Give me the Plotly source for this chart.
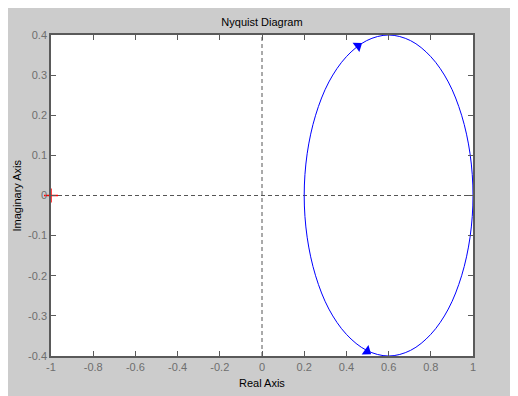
import plotly.graph_objects as go

# Nyquist curve points (real, imaginary)
curve_re = [1.000, 0.986, 0.946, 0.883, 0.800, 0.704, 0.600, 0.496, 0.400, 0.317,
            0.254, 0.214, 0.200, 0.214, 0.254, 0.317, 0.400, 0.496, 0.600, 0.704,
            0.800, 0.883, 0.946, 0.986, 1.000]
curve_im = [0.000, -0.104, -0.200, -0.283, -0.346, -0.386, -0.400, -0.386, -0.346, -0.283,
            -0.200, -0.104, 0.000, 0.104, 0.200, 0.283, 0.346, 0.386, 0.400, 0.386,
            0.346, 0.283, 0.200, 0.104, 0.000]

# Direction arrows (position and angle)
arrow_re = [0.455, 0.498]
arrow_im = [0.373, -0.388]
arrow_angle = [54, 126]

# Critical point
crit_re = [-1]
crit_im = [0]

x_ticks = [-1, -0.8, -0.6, -0.4, -0.2, 0, 0.2, 0.4, 0.6, 0.8, 1]
x_labels = ["-1", "-0.8", "-0.6", "-0.4", "-0.2", "0", "0.2", "0.4", "0.6", "0.8", "1"]
y_ticks = [-0.4, -0.3, -0.2, -0.1, 0, 0.1, 0.2, 0.3, 0.4]
y_labels = ["-0.4", "-0.3", "-0.2", "-0.1", "0", "0.1", "0.2", "0.3", "0.4"]

blue = "#0000ff"
frame = "#5a5a5a"
tickc = "#6e6e6e"
font = "Liberation Sans, Arial, sans-serif"

W, H = 518, 396
OFF = 8  # page body margin
FW, FH = W - OFF, H - OFF  # figure fills the window from the body margin
L, R, T, B = 51 - OFF, 45, 35 - OFF, 40
PW, PH = FW - L - R, FH - T - B

fig = go.Figure()

# dashed zero lines
fig.add_trace(go.Scatter(x=[0, 0], y=[-0.4, 0.4], mode="lines",
                         line=dict(color="#555555", width=1, dash="4px,3px"),
                         hoverinfo="skip", showlegend=False))
fig.add_trace(go.Scatter(x=[-1, 1], y=[0, 0], mode="lines",
                         line=dict(color="#555555", width=1, dash="4px,3px"),
                         hoverinfo="skip", showlegend=False))

fig.add_trace(go.Scatter(x=curve_re, y=curve_im, mode="lines",
                         line=dict(color=blue, width=1, shape="spline", smoothing=1.0),
                         showlegend=False, cliponaxis=False))

fig.add_trace(go.Scatter(x=arrow_re, y=arrow_im, mode="markers",
                         marker=dict(symbol="triangle-up", size=10, color=blue,
                                     angle=arrow_angle, line=dict(width=0)),
                         showlegend=False, cliponaxis=False))

fig.add_trace(go.Scatter(x=crit_re, y=crit_im, mode="markers",
                         marker=dict(symbol="cross-thin", size=10,
                                     line=dict(color="#ff0000", width=1.5)),
                         showlegend=False, cliponaxis=False))

axis_common = dict(ticks="inside", ticklen=5, tickcolor=frame, mirror="ticks",
                   showline=True, linecolor=frame, linewidth=1.5,
                   showgrid=False, zeroline=False, automargin=False,
                   tickfont=dict(color=tickc, size=11, family=font))

fig.update_layout(
    width=FW, height=FH,
    margin=dict(l=L, r=R, t=T, b=B, autoexpand=False),
    paper_bgcolor="#cccccc",
    plot_bgcolor="#ffffff",
    font=dict(family=font, size=11, color="#000000"),
    title=dict(text="Nyquist Diagram", x=(L + PW / 2) / FW, xanchor="center",
               y=1 - (22 - OFF) / FH, yanchor="middle",
               font=dict(family=font, size=11, color="#000000")),
    xaxis=dict(range=[-1, 1], tickvals=x_ticks, ticktext=x_labels, **axis_common),
    yaxis=dict(range=[-0.4, 0.4], tickvals=y_ticks, ticktext=y_labels, **axis_common),
    annotations=[
        dict(text="Real Axis", xref="paper", yref="paper", x=0.5, y=-(383 - 356) / PH,
             xanchor="center", yanchor="middle", showarrow=False,
             font=dict(family=font, size=11, color="#000000")),
        dict(text="Imaginary Axis", xref="paper", yref="paper", x=-(51 - 16) / PW, y=0.5,
             xanchor="center", yanchor="middle", textangle=-90, showarrow=False,
             font=dict(family=font, size=11, color="#000000")),
    ],
)

fig.write_html("out.html")
